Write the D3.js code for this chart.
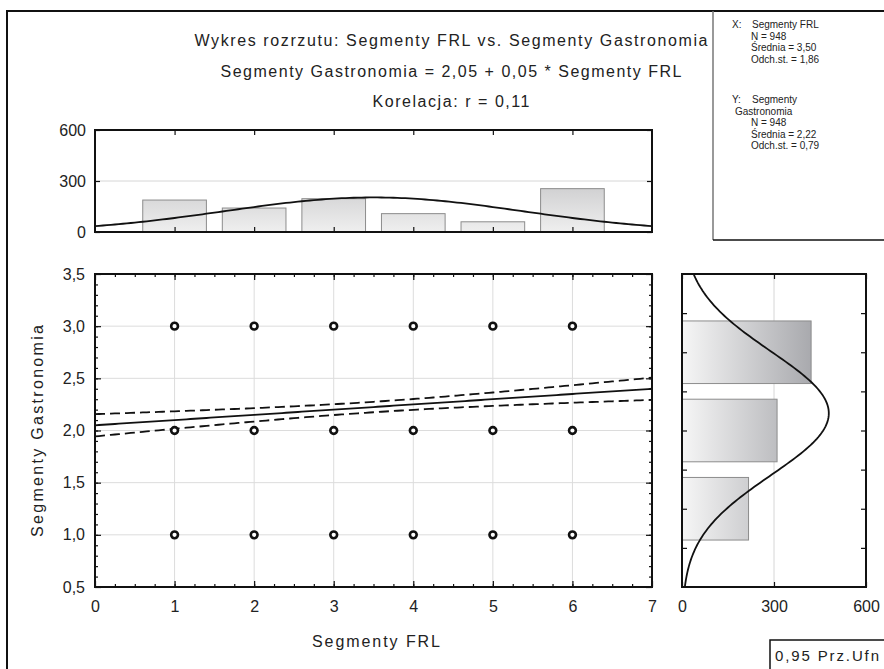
<!DOCTYPE html>
<html>
<head>
<meta charset="utf-8">
<script src="https://cdn.jsdelivr.net/npm/d3@7"></script>
<style>
  body { margin: 0; background: #fff; }
  svg { display: block; font-family: "Liberation Sans", Arial, sans-serif; }
</style>
</head>
<body>
<div id="chart"></div>
<script>
// data
const xCategories = [1, 2, 3, 4, 5, 6];
const xCounts = [188, 141, 196, 108, 60, 255];
const yCategories = [1, 2, 3];
const yCounts = [217, 310, 421];
const points = [
  [1, 1], [2, 1], [3, 1], [4, 1], [5, 1], [6, 1],
  [1, 2], [2, 2], [3, 2], [4, 2], [5, 2], [6, 2],
  [1, 3], [2, 3], [3, 3], [4, 3], [5, 3], [6, 3]
];
const xTicks = [0, 1, 2, 3, 4, 5, 6, 7];
const yTicks = [0.5, 1.0, 1.5, 2.0, 2.5, 3.0, 3.5];
const countTicks = [0, 300, 600];

const nObs = 948;
const meanX = 3.50, sdX = 1.86;
const meanY = 2.22, sdY = 0.79;
const corr = 0.11;
const intercept = 2.05, slope = 0.05;

const titleLines = [
  "Wykres rozrzutu: Segmenty FRL vs. Segmenty Gastronomia",
  "Segmenty Gastronomia = 2,05 + 0,05 * Segmenty FRL",
  "Korelacja: r =  0,11"
];
const statsLinesX = ["Segmenty FRL", "N = 948", "Średnia = 3,50", "Odch.st. = 1,86"];
const statsLinesY = ["Segmenty", "Gastronomia", "N = 948", "Średnia = 2,22", "Odch.st. = 0,79"];

const W = 884, H = 669;
const comma = d => d3.format(".1f")(d).replace(".", ",");

const svg = d3.select("#chart").append("svg")
  .attr("width", W).attr("height", H);

const defs = svg.append("defs");

// scales
const x = d3.scaleLinear().domain([0, 7]).range([95, 652]);
const y = d3.scaleLinear().domain([0.5, 3.5]).range([587, 274]);
const yTop = d3.scaleLinear().domain([0, 600]).range([232, 130]);
const xRight = d3.scaleLinear().domain([0, 600]).range([682, 866]);
// Y histogram bins are squeezed around 2.0 (Statistica layout)
const binPos = d3.scaleLinear().domain([1, 3]).range([1.25, 2.75]);

const gradTop = defs.append("linearGradient").attr("id", "gTop")
  .attr("gradientUnits", "userSpaceOnUse")
  .attr("x1", 0).attr("x2", 0).attr("y1", yTop(0)).attr("y2", yTop(600));
gradTop.append("stop").attr("offset", 0).attr("stop-color", "#efefef");
gradTop.append("stop").attr("offset", 1).attr("stop-color", "#a9a9ac");

const gradRight = defs.append("linearGradient").attr("id", "gRight")
  .attr("gradientUnits", "userSpaceOnUse")
  .attr("y1", 0).attr("y2", 0).attr("x1", xRight(0)).attr("x2", xRight(600));
gradRight.append("stop").attr("offset", 0).attr("stop-color", "#f6f6f6");
gradRight.append("stop").attr("offset", 1).attr("stop-color", "#88898f");

["cTop", "cMain", "cRight"].forEach((id, i) => {
  const r = [
    [x(0), yTop(600), x(7) - x(0), yTop(0) - yTop(600)],
    [x(0), y(3.5), x(7) - x(0), y(0.5) - y(3.5)],
    [xRight(0), y(3.5), xRight(600) - xRight(0), y(0.5) - y(3.5)]
  ][i];
  defs.append("clipPath").attr("id", id).append("rect")
    .attr("x", r[0]).attr("y", r[1]).attr("width", r[2]).attr("height", r[3]);
});

// outer border and stats box
svg.append("path").attr("d", `M7,${H} V11 H${W}`)
  .attr("fill", "none").attr("stroke", "#111").attr("stroke-width", 2);
svg.append("line").attr("x1", 713).attr("x2", 713).attr("y1", 11).attr("y2", 240)
  .attr("stroke", "#777").attr("stroke-width", 1.5);
svg.append("line").attr("x1", 713).attr("x2", W).attr("y1", 240).attr("y2", 240)
  .attr("stroke", "#111").attr("stroke-width", 1.5);

const stats = svg.append("g").attr("font-size", 10).attr("fill", "#222");
const lineGap = 11.5;
stats.append("text").attr("x", 732).attr("y", 28).text("X:");
statsLinesX.forEach((t, i) => {
  stats.append("text").attr("x", i === 0 ? 752 : 751).attr("y", 28 + i * lineGap).text(t);
});
stats.append("text").attr("x", 732).attr("y", 103).text("Y:");
statsLinesY.forEach((t, i) => {
  stats.append("text").attr("x", i === 0 ? 752 : (i === 1 ? 735 : 751))
    .attr("y", 103 + i * lineGap).text(t);
});

// titles
const titleWidths = [513, 461, 157];
titleLines.forEach((t, i) => {
  svg.append("text")
    .attr("x", 451).attr("y", 46 + i * 30.5)
    .attr("text-anchor", "middle")
    .attr("font-size", 16).attr("fill", "#222")
    .attr("textLength", titleWidths[i]).attr("lengthAdjust", "spacing")
    .text(t);
});

// helper for inward tick marks
function innerTicks(g, axis, tx, ty) {
  g.append("g").attr("transform", `translate(${tx},${ty})`)
    .call(axis)
    .call(s => s.select(".domain").remove())
    .call(s => s.selectAll("text").remove())
    .call(s => s.selectAll("line").attr("stroke", "#111").attr("stroke-width", 1.2));
}
function labels(g, axis, tx, ty) {
  g.append("g").attr("transform", `translate(${tx},${ty})`)
    .call(axis)
    .call(s => s.select(".domain").remove())
    .call(s => s.selectAll("line").remove())
    .call(s => s.selectAll("text").attr("font-size", 16).attr("fill", "#222")
      .attr("font-family", "Liberation Sans, Arial, sans-serif"));
}

// ---- top histogram (X)
const topHist = svg.append("g");
topHist.append("line").attr("x1", x(0)).attr("x2", x(7))
  .attr("y1", yTop(300)).attr("y2", yTop(300)).attr("stroke", "#d6d6d6");
topHist.selectAll("rect.bar")
  .data(xCategories)
  .enter()
  .append("rect")
  .attr("class", "bar")
  .attr("x", d => x(d - 0.4))
  .attr("width", x(0.8) - x(0))
  .attr("y", (d, i) => yTop(xCounts[i]))
  .attr("height", (d, i) => yTop(0) - yTop(xCounts[i]))
  .attr("fill", "url(#gTop)").attr("stroke", "#8c8c8c").attr("stroke-width", 1);
const normTop = d3.range(0, 7.001, 0.05).map(v => [v, nObs * Math.exp(-0.5 * ((v - meanX) / sdX) ** 2) / (sdX * Math.sqrt(2 * Math.PI))]);
topHist.append("path").datum(normTop)
  .attr("clip-path", "url(#cTop)")
  .attr("d", d3.line().x(d => x(d[0])).y(d => yTop(d[1])))
  .attr("fill", "none").attr("stroke", "#111").attr("stroke-width", 1.8);
innerTicks(topHist, d3.axisBottom(x).tickValues(xCategories).tickSize(-5), 0, yTop(0));
innerTicks(topHist, d3.axisTop(x).tickValues(xCategories).tickSize(-5), 0, yTop(600));
innerTicks(topHist, d3.axisLeft(yTop).tickValues(countTicks).tickSize(-5), x(0), 0);
innerTicks(topHist, d3.axisRight(yTop).tickValues(countTicks).tickSize(-5), x(7), 0);
topHist.append("rect").attr("x", x(0)).attr("y", yTop(600))
  .attr("width", x(7) - x(0)).attr("height", yTop(0) - yTop(600))
  .attr("fill", "none").attr("stroke", "#111").attr("stroke-width", 2);
labels(topHist, d3.axisLeft(yTop).tickValues(countTicks).tickSize(0).tickPadding(9), x(0), 0);

// ---- scatter
const main = svg.append("g");
main.append("g").selectAll("line.gx")
  .data(xCategories).enter().append("line")
  .attr("x1", d => x(d)).attr("x2", d => x(d))
  .attr("y1", y(0.5)).attr("y2", y(3.5)).attr("stroke", "#dcdcdc");
main.append("g").selectAll("line.gy")
  .data(yTicks.slice(1, -1)).enter().append("line")
  .attr("x1", x(0)).attr("x2", x(7))
  .attr("y1", d => y(d)).attr("y2", d => y(d)).attr("stroke", "#dcdcdc");

// regression line with 0.95 confidence band
const sRes = sdY * Math.sqrt(1 - corr * corr) * Math.sqrt((nObs - 1) / (nObs - 2));
const sxx = (nObs - 1) * sdX * sdX;
const fit = d3.range(0, 7.001, 0.05).map(v => {
  const yhat = intercept + slope * v;
  const se = sRes * Math.sqrt(1 / nObs + (v - meanX) ** 2 / sxx);
  return { v, yhat, lo: yhat - 1.9625 * se, hi: yhat + 1.9625 * se };
});
const reg = main.append("g").attr("clip-path", "url(#cMain)");
reg.append("path").datum(fit)
  .attr("d", d3.line().x(d => x(d.v)).y(d => y(d.yhat)))
  .attr("fill", "none").attr("stroke", "#111").attr("stroke-width", 1.8);
["lo", "hi"].forEach(k => {
  reg.append("path").datum(fit)
    .attr("d", d3.line().x(d => x(d.v)).y(d => y(d[k])))
    .attr("fill", "none").attr("stroke", "#111").attr("stroke-width", 1.8)
    .attr("stroke-dasharray", "10,5");
});

main.append("g").selectAll("circle")
  .data(points).enter().append("circle")
  .attr("cx", d => x(d[0])).attr("cy", d => y(d[1]))
  .attr("r", 3.4)
  .attr("fill", "#fff").attr("stroke", "#111").attr("stroke-width", 2.6);

innerTicks(main, d3.axisBottom(x).tickValues(d3.range(0.25, 7, 0.25)).tickSize(-3), 0, y(0.5));
innerTicks(main, d3.axisBottom(x).tickValues(xTicks).tickSize(-6), 0, y(0.5));
innerTicks(main, d3.axisTop(x).tickValues(d3.range(0.25, 7, 0.25)).tickSize(-3), 0, y(3.5));
innerTicks(main, d3.axisTop(x).tickValues(xTicks).tickSize(-6), 0, y(3.5));
innerTicks(main, d3.axisLeft(y).tickValues(d3.range(0.6, 3.45, 0.1)).tickSize(-3), x(0), 0);
innerTicks(main, d3.axisLeft(y).tickValues(yTicks).tickSize(-6), x(0), 0);
innerTicks(main, d3.axisRight(y).tickValues(d3.range(0.6, 3.45, 0.1)).tickSize(-3), x(7), 0);
innerTicks(main, d3.axisRight(y).tickValues(yTicks).tickSize(-6), x(7), 0);
main.append("rect").attr("x", x(0)).attr("y", y(3.5))
  .attr("width", x(7) - x(0)).attr("height", y(0.5) - y(3.5))
  .attr("fill", "none").attr("stroke", "#111").attr("stroke-width", 2);
labels(main, d3.axisLeft(y).tickValues(yTicks).tickFormat(comma).tickSize(0).tickPadding(10), x(0), 0);
labels(main, d3.axisBottom(x).tickValues(xTicks).tickFormat(d3.format("d")).tickSize(0).tickPadding(14), 0, y(0.5));

// axis titles
svg.append("text")
  .attr("x", 376).attr("y", 647).attr("text-anchor", "middle")
  .attr("font-size", 16).attr("fill", "#222")
  .attr("textLength", 128).attr("lengthAdjust", "spacing")
  .text("Segmenty FRL");
svg.append("text")
  .attr("transform", "translate(43,431) rotate(-90)")
  .attr("text-anchor", "middle")
  .attr("font-size", 16).attr("fill", "#222")
  .attr("textLength", 212).attr("lengthAdjust", "spacing")
  .text("Segmenty Gastronomia");

// ---- right histogram (Y)
const rightHist = svg.append("g");
rightHist.append("line").attr("x1", xRight(300)).attr("x2", xRight(300))
  .attr("y1", y(0.5)).attr("y2", y(3.5)).attr("stroke", "#d6d6d6");
const binH = y(0) - y(0.6);
rightHist.selectAll("rect.bar")
  .data(yCategories)
  .enter()
  .append("rect")
  .attr("class", "bar")
  .attr("x", xRight(0))
  .attr("y", d => y(binPos(d)) - binH / 2)
  .attr("height", binH)
  .attr("width", (d, i) => xRight(yCounts[i]) - xRight(0))
  .attr("fill", "url(#gRight)").attr("stroke", "#8c8c8c").attr("stroke-width", 1);
const normRight = d3.range(0.5, 3.501, 0.02).map(p => {
  const v = binPos.invert(p);
  return [p, nObs * Math.exp(-0.5 * ((v - meanY) / sdY) ** 2) / (sdY * Math.sqrt(2 * Math.PI))];
});
rightHist.append("path").datum(normRight)
  .attr("clip-path", "url(#cRight)")
  .attr("d", d3.line().x(d => xRight(d[1])).y(d => y(d[0])))
  .attr("fill", "none").attr("stroke", "#111").attr("stroke-width", 1.8);
const binTicks = yTicks.map(v => binPos(v)).filter(p => p > 0.5 && p < 3.5);
innerTicks(rightHist, d3.axisLeft(y).tickValues(binTicks).tickSize(-5), xRight(0), 0);
innerTicks(rightHist, d3.axisRight(y).tickValues(binTicks).tickSize(-5), xRight(600), 0);
innerTicks(rightHist, d3.axisBottom(xRight).tickValues(countTicks).tickSize(-5), 0, y(0.5));
innerTicks(rightHist, d3.axisTop(xRight).tickValues(countTicks).tickSize(-5), 0, y(3.5));
rightHist.append("rect").attr("x", xRight(0)).attr("y", y(3.5))
  .attr("width", xRight(600) - xRight(0)).attr("height", y(0.5) - y(3.5))
  .attr("fill", "none").attr("stroke", "#111").attr("stroke-width", 2);
labels(rightHist, d3.axisBottom(xRight).tickValues(countTicks).tickSize(0).tickPadding(14), 0, y(0.5));

// confidence label box
svg.append("rect").attr("x", 770).attr("y", 640).attr("width", 130).attr("height", 40)
  .attr("fill", "#fff").attr("stroke", "#111").attr("stroke-width", 1.5);
svg.append("text").attr("x", 775).attr("y", 661)
  .attr("font-size", 15).attr("fill", "#222")
  .attr("textLength", 104).attr("lengthAdjust", "spacing")
  .text("0,95 Prz.Ufn");
</script>
</body>
</html>
